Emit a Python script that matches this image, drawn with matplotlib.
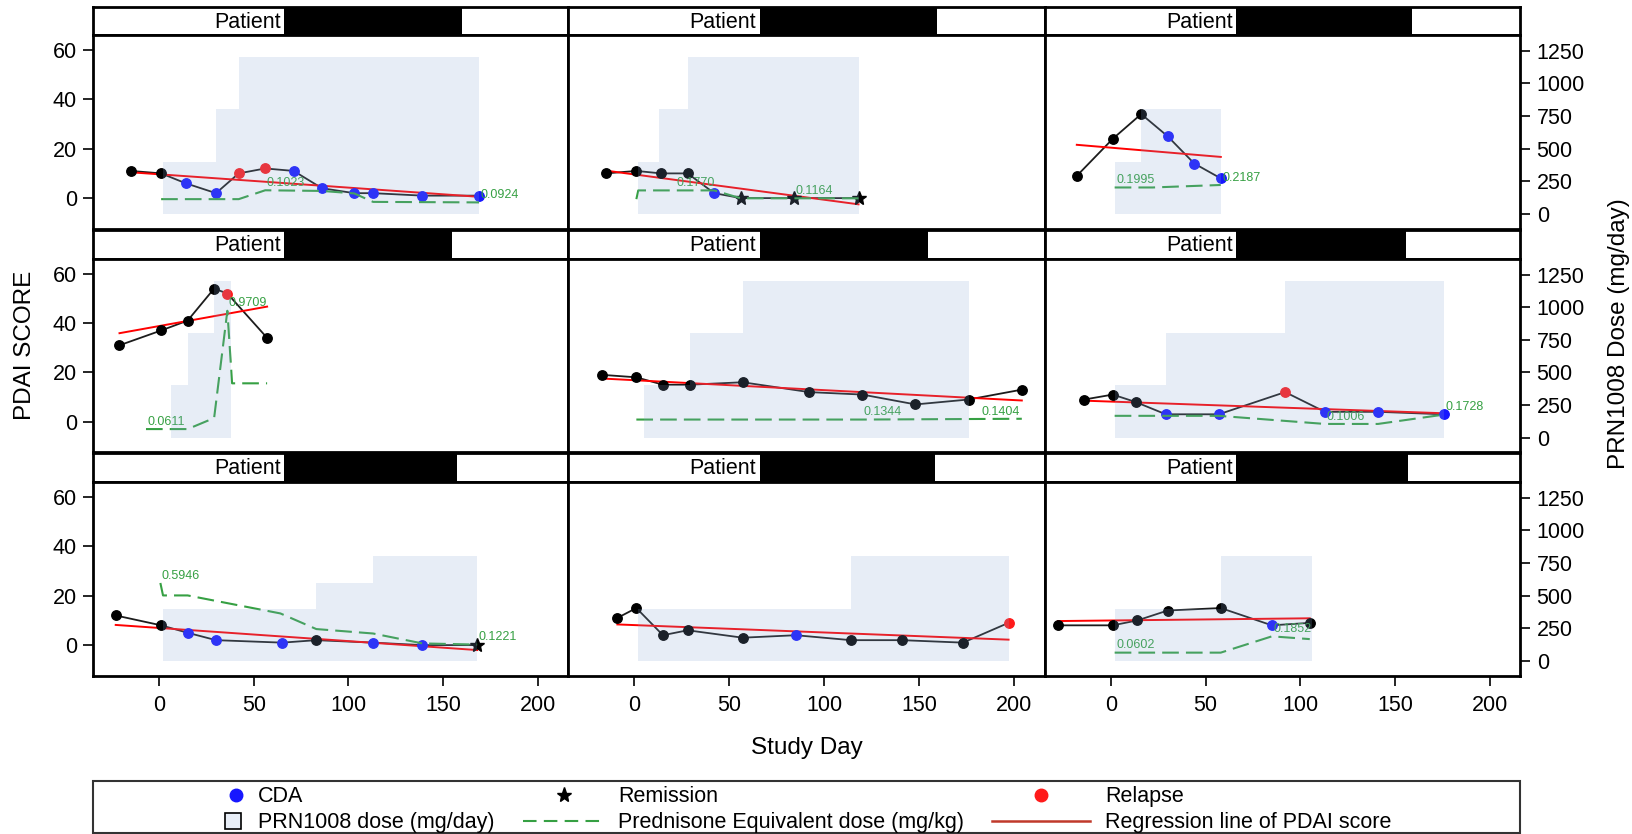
import matplotlib
matplotlib.use("Agg")
import matplotlib.pyplot as plt
import numpy as np
from matplotlib.patches import Rectangle

plt.rcParams["font.family"] = ["Liberation Sans", "DejaVu Sans"]

# ---- data: one list per patient panel, row by row (3 x 3) ----
visit_days = [
    [-15, 1, 14, 30, 42, 56, 71, 86, 103, 113, 139, 169],
    [-15, 1, 14, 28, 42, 56, 84, 118],
    [-18, 1, 16, 30, 44, 58],
    [-21, 1, 15, 29, 36, 57],
    [-17, 1, 15, 29, 57, 92, 120, 148, 176, 204],
    [-14, 1, 13, 29, 57, 92, 113, 141, 176],
    [-23, 1, 15, 30, 65, 83, 113, 139, 168],
    [-9, 1, 15, 28, 57, 85, 114, 141, 173, 197],
    [-28, 1, 14, 30, 58, 85, 105],
]
pdai_scores = [
    [11, 10, 6, 2, 10, 12, 11, 4, 2, 2, 1, 1],
    [10, 11, 10, 10, 2, 0, 0, 0],
    [9, 24, 34, 25, 14, 8],
    [31, 37, 41, 54, 52, 34],
    [19, 18, 15, 15, 16, 12, 11, 7, 9, 13],
    [9, 11, 8, 3, 3, 12, 4, 4, 3],
    [12, 8, 5, 2, 1, 2, 1, 0, 0],
    [11, 15, 4, 6, 3, 4, 2, 2, 1, 9],
    [8, 8, 10, 14, 15, 8, 9],
]
# N = no event, C = CDA, R = relapse, S = remission
visit_status = [
    "NNCCRRCCCCCC",
    "NNNNCSSS",
    "NNNCCC",
    "NNNNRN",
    "NNNNNNNNNN",
    "NNNCCRCCC",
    "NNCCCNCCS",
    "NNNNNCNNNR",
    "NNNNNCN",
]

# PRN1008 dose steps: edges (study day) and mg/day for each step
dose_edges = [
    [2, 30, 42, 169],
    [2, 13, 28, 118],
    [2, 16, 58],
    [6, 15, 29, 38],
    [5, 29, 57, 176],
    [2, 29, 92, 176],
    [2, 83, 113, 168],
    [2, 114, 197],
    [2, 58, 106],
]
dose_mg = [
    [400, 800, 1200],
    [400, 800, 1200],
    [400, 800],
    [400, 800, 1200],
    [400, 800, 1200],
    [400, 800, 1200],
    [400, 600, 800],
    [400, 800],
    [400, 800],
]

# prednisone equivalent dose (mg/kg)
pred_days = [
    [1, 42, 56, 86, 103, 113, 169],
    [1, 2, 42, 56, 118],
    [2, 22, 58],
    [-7, 15, 29, 36, 38.5, 57],
    [1, 120, 204],
    [2, 57, 113, 141, 176],
    [0.6, 2, 15, 64, 83, 113, 139, 168],
    [],
    [2, 58, 85, 105],
]
pred_mgkg = [
    [0.110, 0.110, 0.178, 0.173, 0.154, 0.089, 0.085],
    [0.110, 0.177, 0.177, 0.1164, 0.1164],
    [0.1995, 0.1995, 0.2187],
    [0.0611, 0.0611, 0.146, 0.9709, 0.413, 0.413],
    [0.1344, 0.1344, 0.1404],
    [0.163, 0.163, 0.1006, 0.1006, 0.1728],
    [0.5946, 0.499, 0.499, 0.361, 0.241, 0.207, 0.131, 0.1221],
    [],
    [0.0602, 0.0602, 0.1852, 0.164],
]
pred_label_days = [
    [56, 169], [21.5, 84], [2, 58], [-7, 36], [120, 182],
    [113, 176], [0.6, 168], [], [2, 85],
]
pred_label_text = [
    ["0.1023", "0.0924"], ["0.1770", "0.1164"], ["0.1995", "0.2187"],
    ["0.0611", "0.9709"], ["0.1344", "0.1404"], ["0.1006", "0.1728"],
    ["0.5946", "0.1221"], [], ["0.0602", "0.1852"],
]
# right end of the redaction box in each header (axes fraction)
id_box_right = [0.777, 0.774, 0.772, 0.755, 0.756, 0.761, 0.766, 0.770, 0.765]

# ---- layout (pixels of the 1633 x 834 figure) ----
FIG_W, FIG_H = 1633, 834
COL_X = [93, 568, 1044.6, 1520]
HDR_TOP = [7, 229.5, 453]
DATA_TOP = [35, 259, 482]
DATA_BOTTOM = [229, 452.5, 676]

BLUE = "#1717ff"
RED = "#ff1a1a"
GREEN = "#36a043"
SHADE = "#8ba9d5"
FS = 15.5
DASH = (8, 3.4)

STATUS_STYLE = {
    "N": dict(marker="o", color="black", ms=6.8),
    "C": dict(marker="o", color=BLUE, ms=6.8),
    "R": dict(marker="o", color=RED, ms=6.8),
    "S": dict(marker="*", color="black", ms=10.5),
}


def px_box(x0, y0, x1, y1):
    return [x0 / FIG_W, 1 - y1 / FIG_H, (x1 - x0) / FIG_W, (y1 - y0) / FIG_H]


fig = plt.figure(figsize=(FIG_W / 100, FIG_H / 100), dpi=100)

for i in range(9):
    r, c = divmod(i, 3)
    x0, x1 = COL_X[c], COL_X[c + 1]

    # header strip
    hdr = fig.add_axes(px_box(x0, HDR_TOP[r], x1, DATA_TOP[r]))
    hdr.set_xticks([])
    hdr.set_yticks([])
    for s in hdr.spines.values():
        s.set_linewidth(2)
    hdr.text(0.395, 0.45, "Patient", ha="right", va="center", fontsize=FS,
             transform=hdr.transAxes)
    hdr.add_patch(Rectangle((0.403, 0), id_box_right[i] - 0.403, 1,
                            transform=hdr.transAxes, color="black", lw=0))

    # data panel
    ax = fig.add_axes(px_box(x0, DATA_TOP[r], x1, DATA_BOTTOM[r]))
    ax_p = ax.twinx()
    ax_r = ax.twinx()

    days = np.array(visit_days[i])
    pdai = np.array(pdai_scores[i])
    status = np.array(list(visit_status[i]))

    ax.plot(days, pdai, color="#1c1c1c", lw=1.3, zorder=2)
    coef = np.polyfit(days, pdai, 1)
    xs = np.array([days.min(), days.max()])
    ax.plot(xs, np.polyval(coef, xs), color="red", lw=1.4, zorder=3)
    for code, st in STATUS_STYLE.items():
        m = status == code
        if m.any():
            ax.plot(days[m], pdai[m], ls="none", marker=st["marker"],
                    color=st["color"], ms=st["ms"], zorder=4)

    if pred_days[i]:
        ax_p.plot(pred_days[i], pred_mgkg[i], color=GREEN, lw=1.5, dashes=DASH)
        for d, t in zip(pred_label_days[i], pred_label_text[i]):
            y = np.interp(d, pred_days[i], pred_mgkg[i])
            ax_p.annotate(t, (d, y), xytext=(1, 1), textcoords="offset points",
                          ha="left", va="bottom", fontsize=9, color=GREEN)

    edges = dose_edges[i]
    levels = dose_mg[i] + [dose_mg[i][-1]]
    ax_r.fill_between(edges, levels, 0, step="post", color=SHADE,
                      alpha=0.2, linewidth=0)

    ax.set_xlim(-35, 216)
    ax.set_ylim(-12.5, 66)
    ax_p.set_ylim(-0.119, 1.369)
    ax_r.set_ylim(-115, 1370)

    ax.set_xticks([0, 50, 100, 150, 200])
    ax.set_yticks([0, 20, 40, 60])
    ax_r.set_yticks([0, 250, 500, 750, 1000, 1250])
    tick_kw = dict(direction="out", length=7.5, width=1.2, labelsize=FS)
    ax.tick_params(axis="y", pad=4, left=(c == 0), labelleft=(c == 0), **tick_kw)
    ax.tick_params(axis="x", pad=6, bottom=(r == 2), labelbottom=(r == 2), **tick_kw)
    ax_r.tick_params(axis="y", pad=4.5, right=(c == 2), labelright=(c == 2), **tick_kw)
    ax_p.set_yticks([])

    for s in ax.spines.values():
        s.set_linewidth(2)
    for tw in (ax_p, ax_r):
        for s in tw.spines.values():
            s.set_visible(False)

fig.text(25.5 / FIG_W, 1 - 345 / FIG_H, "PDAI SCORE", rotation=90,
         ha="center", va="center", fontsize=17.5)
fig.text(1619 / FIG_W, 1 - 334 / FIG_H, "PRN1008 Dose (mg/day)", rotation=90,
         ha="center", va="center", fontsize=17.5)
fig.text(807 / FIG_W, 1 - 754 / FIG_H, "Study Day", ha="center",
         va="baseline", fontsize=17.5)

# legend drawn in figure pixel space
lax = fig.add_axes([0, 0, 1, 1])
lax.set_xlim(0, FIG_W)
lax.set_ylim(FIG_H, 0)
lax.axis("off")
lax.add_patch(Rectangle((93, 781), 1427, 52, fill=False, lw=1.5, edgecolor="#333333"))
row1, row2 = 795, 821
lax.plot([236], [row1], "o", color=BLUE, ms=9)
lax.text(258, row1 + 7, "CDA", va="baseline", fontsize=FS)
lax.plot([564], [row1], "*", color="black", ms=11)
lax.text(618, row1 + 7, "Remission", va="baseline", fontsize=FS)
lax.plot([1041], [row1], "o", color=RED, ms=9)
lax.text(1105, row1 + 7, "Relapse", va="baseline", fontsize=FS)
lax.plot([233], [row2], "s", mfc="#e8eef7", mec="black", mew=1.2, ms=11)
lax.text(258, row2 + 7, "PRN1008 dose (mg/day)", va="baseline", fontsize=FS)
lax.plot([523, 606], [row2, row2], color=GREEN, lw=1.5, dashes=(6.5, 3.5))
lax.text(618, row2 + 7, "Prednisone Equivalent dose (mg/kg)", va="baseline", fontsize=FS)
lax.plot([992, 1090], [row2, row2], color="#c0392b", lw=1.8)
lax.text(1105, row2 + 7, "Regression line of PDAI score", va="baseline", fontsize=FS)

fig.savefig("out.png", dpi=100)
